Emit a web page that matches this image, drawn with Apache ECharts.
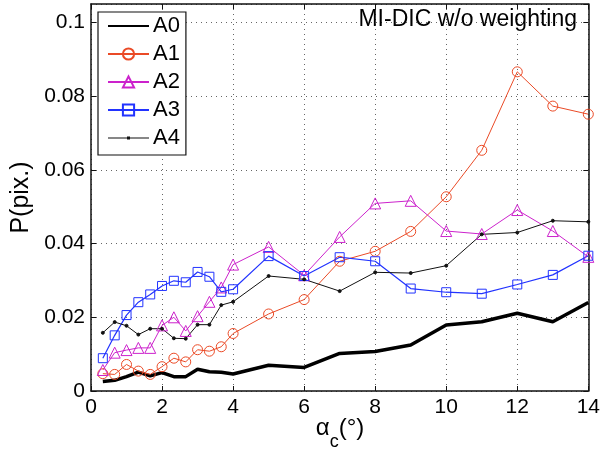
<!DOCTYPE html>
<html>
<head>
<meta charset="utf-8">
<script src="https://cdn.jsdelivr.net/npm/echarts@6/dist/echarts.min.js"></script>
<style>html,body{margin:0;padding:0;background:#fff}#c{width:603px;height:450px}</style>
</head>
<body>
<div id="c"></div>
<script>
const xVals = [0.333, 0.667, 1, 1.333, 1.667, 2, 2.333, 2.667, 3, 3.333, 3.667, 4, 5, 6, 7, 8, 9, 10, 11, 12, 13, 14];
const A0 = [0.0026, 0.0029, 0.0039, 0.0051, 0.0041, 0.0050, 0.0039, 0.0039, 0.0059, 0.0052, 0.0051, 0.0046, 0.0070, 0.0064, 0.0102, 0.0107, 0.0125, 0.0179, 0.0188, 0.0211, 0.0188, 0.0240];
const A1 = [0.0047, 0.0045, 0.0072, 0.0054, 0.0045, 0.0066, 0.0089, 0.0079, 0.0112, 0.0108, 0.0120, 0.0156, 0.0209, 0.0248, 0.0352, 0.0379, 0.0433, 0.0527, 0.0653, 0.0866, 0.0773, 0.0751];
const A2 = [0.0057, 0.0104, 0.0111, 0.0117, 0.0117, 0.0178, 0.0200, 0.0163, 0.0203, 0.0242, 0.0281, 0.0343, 0.0391, 0.0314, 0.0418, 0.0509, 0.0516, 0.0434, 0.0426, 0.0491, 0.0434, 0.0364];
const A3 = [0.0089, 0.0151, 0.0206, 0.0241, 0.0262, 0.0285, 0.0299, 0.0295, 0.0323, 0.0310, 0.0269, 0.0276, 0.0366, 0.0312, 0.0363, 0.0352, 0.0278, 0.0268, 0.0264, 0.0289, 0.0315, 0.0367];
const A4 = [0.0158, 0.0187, 0.0177, 0.0153, 0.0169, 0.0169, 0.0143, 0.0142, 0.0180, 0.0180, 0.0233, 0.0242, 0.0312, 0.0303, 0.0271, 0.0322, 0.0320, 0.0340, 0.0425, 0.0430, 0.0462, 0.0459];
const seriesNames = ['A0', 'A1', 'A2', 'A3', 'A4'];
const titleText = 'MI-DIC w/o weighting';

const FONT = '"Liberation Sans", Arial, Helvetica, sans-serif';
const pair = ys => xVals.map((x, i) => [x, ys[i]]);
const chart = echarts.init(document.getElementById('c'), null, {renderer: 'canvas'});

const gridLine = {show: true, lineStyle: {color: '#666', type: [1, 4], width: 1}};
const frame = {show: true, onZero: false, lineStyle: {color: '#111', width: 1.5}};
const tick = {show: true, inside: true, length: 5, lineStyle: {color: '#111', width: 1}};

function mk(name, data, color, symbol, size, width, hollow) {
  return {
    name, type: 'line', data: pair(data), symbol, symbolSize: size,
    showSymbol: symbol !== 'none',
    lineStyle: {color, width},
    itemStyle: {color: hollow ? 'rgba(255,255,255,0)' : color, borderColor: color, borderWidth: 1},
    emphasis: {disabled: true}, animation: false
  };
}

chart.setOption({
  animation: false,
  textStyle: {fontFamily: FONT},
  grid: {left: 91, right: 14, top: 4, bottom: 59, containLabel: false},
  title: {text: titleText, right: 26, top: 8, padding: 0,
    textStyle: {fontFamily: FONT, fontSize: 23, fontWeight: 'normal', color: '#000'}},
  graphic: [{
    type: 'text', x: 340, y: 416, silent: true,
    style: {
      text: '{a|α}{s|c}{a|(°)}', align: 'center', verticalAlign: 'top',
      rich: {
        a: {fontFamily: FONT, fontSize: 24, lineHeight: 30, verticalAlign: 'top', fill: '#000'},
        s: {fontFamily: FONT, fontSize: 18, lineHeight: 20, padding: [17, 0, 0, 0], verticalAlign: 'top', fill: '#000'}
      }
    }
  }],
  legend: {
    orient: 'vertical', left: 98, top: 12, padding: [3, 6, 6, 9], itemGap: 6,
    itemWidth: 41, itemHeight: 14,
    backgroundColor: '#fff', borderColor: '#111', borderWidth: 1.2,
    textStyle: {fontFamily: FONT, fontSize: 22, color: '#000', padding: [0, 0, 0, -1]},
    data: [
      {name: 'A0', itemStyle: {color: 'rgba(0,0,0,0)', borderColor: 'rgba(0,0,0,0)', borderWidth: 0}},
      'A1', 'A2', 'A3',
      {name: 'A4', icon: 'path://M0,0 M41,14 M0,6.5 L41,6.5 L41,7.5 L0,7.5 Z M19,5.5 L22,5.5 L22,8.5 L19,8.5 Z',
       itemStyle: {color: '#111', borderWidth: 0}}
    ]
  },
  xAxis: [{
    type: 'value', min: 0, max: 14, interval: 2,
    axisLine: frame, axisTick: tick, splitLine: gridLine,
    axisLabel: {fontFamily: FONT, fontSize: 21, color: '#000', margin: 6}
  }, {
    type: 'value', min: 0, max: 14, interval: 2, position: 'top',
    axisLine: frame, axisTick: tick, splitLine: {show: false}, axisLabel: {show: false}
  }],
  yAxis: [{
    type: 'value', min: 0, max: 0.105, interval: 0.02,
    name: 'P(pix.)', nameLocation: 'middle', nameGap: 54,
    nameTextStyle: {fontFamily: FONT, fontSize: 25, color: '#000'},
    axisLine: frame, axisTick: tick, splitLine: gridLine,
    axisLabel: {fontFamily: FONT, fontSize: 21, color: '#000', margin: 6, showMaxLabel: false}
  }, {
    type: 'value', min: 0, max: 0.105, interval: 0.02, position: 'right',
    axisLine: frame, axisTick: tick, splitLine: {show: false}, axisLabel: {show: false}
  }],
  series: [
    mk('A0', A0, '#000000', 'none', 0, 3.5, false),
    mk('A1', A1, '#ea4a26', 'circle', 10, 1, true),
    mk('A2', A2, '#cc22cc', 'triangle', 11, 1, true),
    mk('A3', A3, '#2233ff', 'rect', 9, 1.2, true),
    mk('A4', A4, '#111111', 'circle', 3, 1, false)
  ]
});
</script>
</body>
</html>
